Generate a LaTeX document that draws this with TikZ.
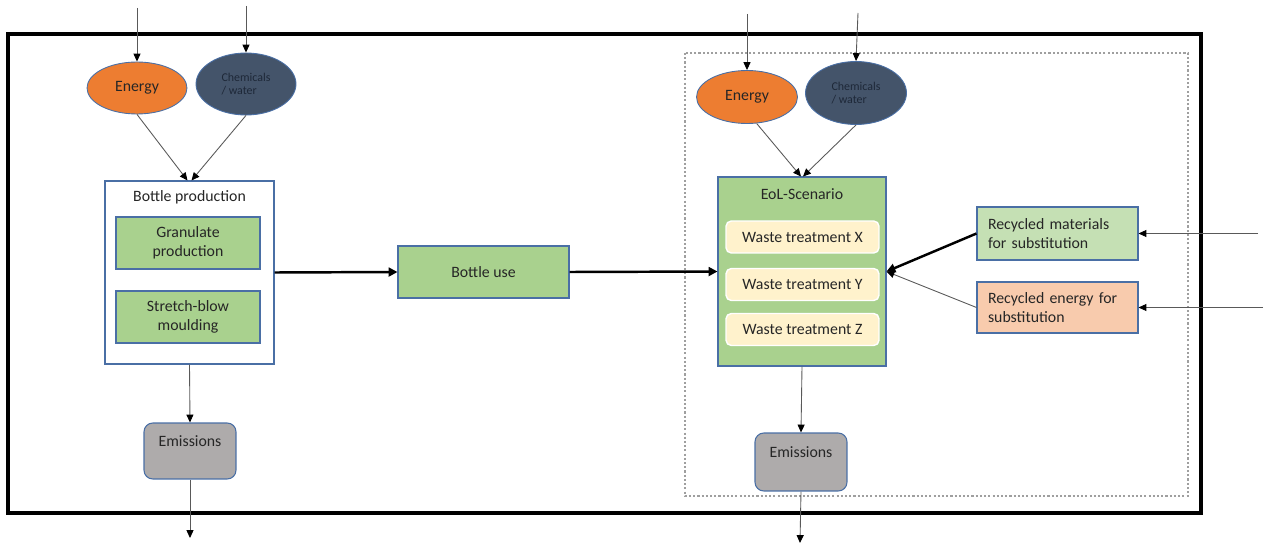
\documentclass[tikz,border=0pt]{standalone}
\usepackage{fontspec}
\setmainfont{Carlito}
\usetikzlibrary{arrows.meta,shapes.geometric}

\definecolor{txt}{HTML}{262626}
\definecolor{edgeblue}{HTML}{4A6FA5}
\definecolor{energyfill}{HTML}{ED7D31}
\definecolor{chemfill}{HTML}{44546A}
\definecolor{chemtxt}{HTML}{1E2838}
\definecolor{procgreen}{HTML}{A9D18E}
\definecolor{lightgreen}{HTML}{C5E0B4}
\definecolor{peach}{HTML}{F8CBAD}
\definecolor{cream}{HTML}{FFF2CC}
\definecolor{emisgray}{HTML}{AEABAB}
\definecolor{flowgray}{HTML}{595959}

\tikzset{
  base/.style={inner sep=0pt, text=txt, font=\fontsize{9}{11}\selectfont},
  energynode/.style={base, ellipse, draw=edgeblue, line width=0.5pt, fill=energyfill},
  chemnode/.style={base, ellipse, draw=edgeblue, line width=0.5pt, fill=chemfill,
    text=chemtxt, align=left, font=\fontsize{6.8}{7.4}\selectfont},
  procbox/.style={base, rectangle, draw=edgeblue, line width=0.6pt, fill=procgreen, align=center},
  groupbox/.style={base, rectangle, draw=edgeblue, line width=0.6pt, fill=white},
  wastebox/.style={base, rectangle, rounded corners=3pt, draw=white, line width=0.8pt,
    fill=cream, minimum width=3.06cm, minimum height=0.64cm},
  emisbox/.style={base, rectangle, rounded corners=5pt, draw=edgeblue, line width=0.6pt,
    fill=emisgray, minimum width=1.84cm},
  recbox/.style={base, rectangle, draw=edgeblue, line width=0.6pt, align=left,
    minimum width=3.22cm, text width=2.78cm, inner xsep=0.22cm},
  thinflow/.style={draw=flowgray, line width=0.5pt,
    -{Triangle[length=4.5pt,width=4pt,color=black,fill=black]}},
  thickflow/.style={draw=black, line width=1.4pt, -{Triangle[length=5pt,width=5pt]}},
  frame/.style={draw=black, line width=2.3pt},
  dotframe/.style={draw=gray!75, line width=0.6pt, dash pattern=on 1.2pt off 1.2pt}
}

\begin{document}
\begin{tikzpicture}[x=0.02cm, y=-0.02cm]
  \useasboundingbox (0,0) rectangle (1265,544);

  % system boundaries
  \draw[frame] (8,34) rectangle (1201,513);
  \draw[dotframe] (685,53) rectangle (1188,496);

  % production side
  \node[energynode, minimum width=2.0cm, minimum height=1.04cm] (eL) at (137,88) {Energy};
  \node[chemnode, minimum width=2.0cm, minimum height=1.24cm] (cL) at (246,84) {Chemicals\\/ water};

  \node[groupbox, minimum width=3.38cm, minimum height=3.66cm] (bp) at (189.5,272.5) {};
  \node[base] (bpt) at (189.5,197) {Bottle production};
  \node[procbox, minimum width=2.88cm, minimum height=1.04cm] (gp) at (188,243) {Granulate\\production};
  \node[procbox, minimum width=2.88cm, minimum height=1.04cm] (sb) at (188,317) {Stretch-blow\\moulding};

  \node[emisbox, minimum height=1.12cm,
        label={[base, anchor=center, yshift=-0.38cm]north:Emissions}] (emL) at (190,451) {};

  % use phase
  \node[procbox, minimum width=3.42cm, minimum height=1.04cm] (bu) at (483.5,272) {Bottle use};

  % end-of-life side
  \node[energynode, minimum width=2.02cm, minimum height=1.06cm] (eR) at (747,97) {Energy};
  \node[chemnode, minimum width=2.02cm, minimum height=1.26cm] (cR) at (856,93) {Chemicals\\/ water};

  \node[procbox, minimum width=3.36cm, minimum height=3.78cm] (eol) at (802,271.5) {};
  \node[base] (eolt) at (802,194) {EoL-Scenario};
  \node[wastebox] (wx) at (802.5,237) {Waste treatment X};
  \node[wastebox] (wy) at (802.5,284.5) {Waste treatment Y};
  \node[wastebox] (wz) at (802.5,329.5) {Waste treatment Z};

  \node[emisbox, minimum height=1.16cm,
        label={[base, anchor=center, yshift=-0.40cm]north:Emissions}] (emR) at (801,462) {};

  \node[recbox, fill=lightgreen, minimum height=1.06cm] (rm) at (1057.5,233.5) {Recycled materials\\for substitution};
  \node[recbox, fill=peach, minimum height=1.02cm] (re) at (1057.5,307.5) {Recycled energy for\\substitution};

  % free ends of the crossing flows
  \coordinate (inEL) at (137,8);
  \coordinate (inCL) at (246,6);
  \coordinate (inER) at (747,14);
  \coordinate (inCR) at (858,13);
  \coordinate (outL) at (190,538);
  \coordinate (outR) at (800,543);
  \coordinate (inRM) at (1258,233.5);
  \coordinate (inRE) at (1263,307.5);

  % inputs from outside
  \draw[thinflow] (inEL) -- (eL.north);
  \draw[thinflow] (inCL) -- (cL.north);
  \draw[thinflow] (inER) -- (eR.north);
  \draw[thinflow] (inCR) -- (cR.north);
  \draw[thinflow] (inRM) -- (rm.east);
  \draw[thinflow] (inRE) -- (re.east);

  % supplies into the processes
  \draw[thinflow] (eL.south) -- ([xshift=-0.04cm]bp.north);
  \draw[thinflow] (cL.south) -- ([xshift=0.04cm]bp.north);
  \draw[thinflow] (eR.-70) -- ([xshift=-0.02cm]eol.north);
  \draw[thinflow] (cR.south) -- ([xshift=0.02cm]eol.north);

  % main chain
  \draw[thickflow] (bp.east) -- (bu.west);
  \draw[thickflow] (bu.east) -- (eol.west);
  \draw[thickflow] (rm.west) -- (eol.east);
  \draw[thinflow] (re.west) -- (eol.east);

  % emissions
  \draw[thinflow] (bp.south) -- (emL.north);
  \draw[thinflow] (emL.south) -- (outL);
  \draw[thinflow] (eol.south) -- (emR.north);
  \draw[thinflow] (emR.south) -- (outR);
\end{tikzpicture}
\end{document}
